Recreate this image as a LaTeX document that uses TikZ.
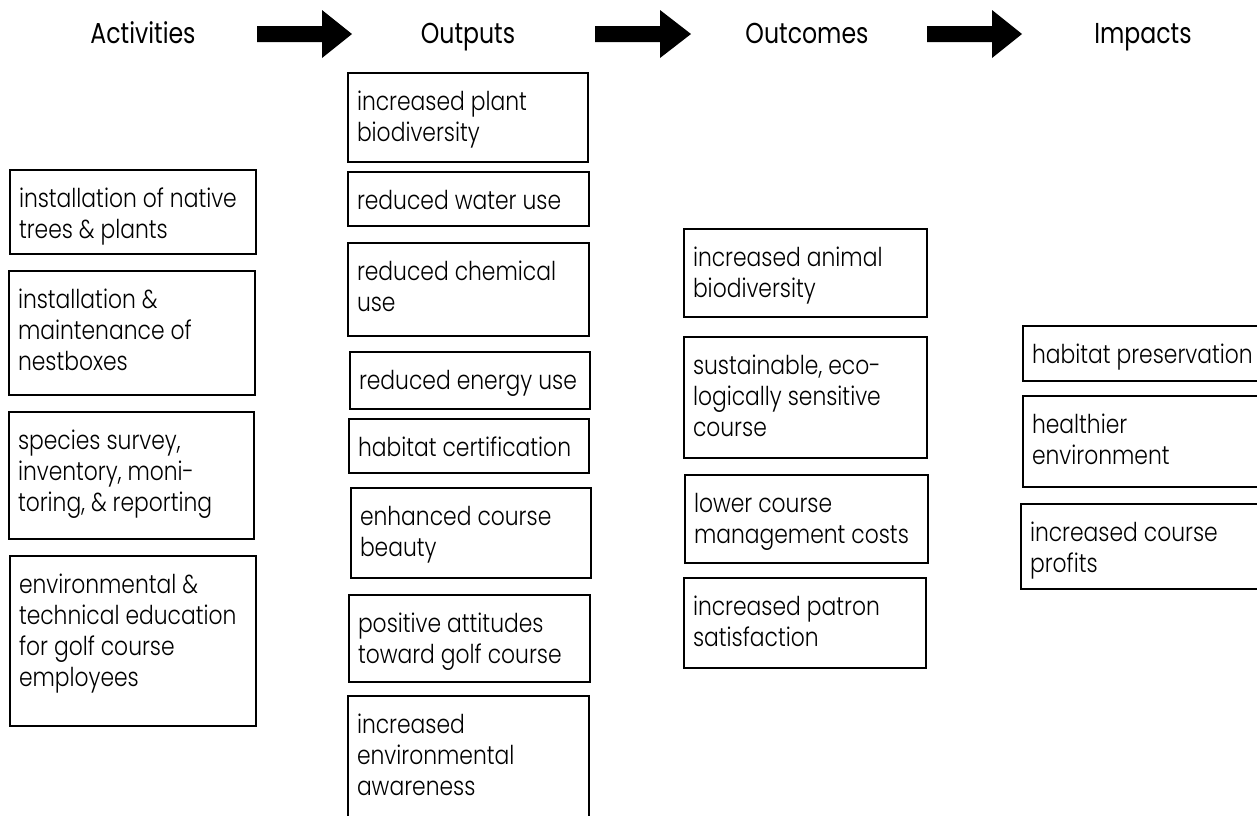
\documentclass[tikz,border=0pt]{standalone}
\usepackage{fontspec}
\setmainfont{Poppins Light}[FakeStretch=0.84]
\newfontfamily\ttlfont{Poppins}[FakeStretch=0.82]
\tikzset{
  boxst/.style={draw=black, line width=1.1pt, rectangle, inner sep=0pt, outer sep=0pt, anchor=north west},
  txt/.style={inner sep=0pt, outer sep=0pt, align=left, anchor=north west,
    font=\fontsize{19.5pt}{23.25pt}\selectfont},
  ttl/.style={inner sep=0pt, anchor=base, font=\ttlfont\fontsize{21.6pt}{25pt}\selectfont},
  blockarrow/.style={fill=black}
}
% name, left, top, right, bottom, text
\newcommand{\mkbox}[6]{%
  \node[boxst, minimum width={(#4-#2)*0.75pt}, minimum height={(#5-#3)*0.75pt}] (#1) at (#2,#3) {};
  \node[txt] (#1-t) at ([shift={(9,15)}]#1.north west) {\rule{0pt}{16.5pt}#6};
}
\begin{document}
\begin{tikzpicture}[x=0.75pt,y=-0.75pt]
\useasboundingbox (0,0) rectangle (1257,815);
\clip (0,0) rectangle (1257,815);

% titles
\node[ttl] (tact) at (143,43) {Activities};
\node[ttl] (tout) at (468,43) {Outputs};
\node[ttl] (tcome) at (807,43) {Outcomes};
\node[ttl] (timp) at (1143,43) {Impacts};

% block arrows
\fill[blockarrow] (257,26) -- (322,26) -- (322,10) -- (352,34) -- (322,58) -- (322,42) -- (257,42) -- cycle;
\fill[blockarrow] (595,26) -- (660,26) -- (660,10) -- (691,34) -- (660,58) -- (660,42) -- (595,42) -- cycle;
\fill[blockarrow] (927,26) -- (992,26) -- (992,10) -- (1022,34) -- (992,58) -- (992,42) -- (927,42) -- cycle;

% Activities
\mkbox{a1}{10}{170}{256}{254}{installation of native\\trees \& plants}
\mkbox{a2}{9}{271}{255}{395}{installation \&\\maintenance of\\nestboxes}
\mkbox{a3}{9}{412}{254}{539}{species survey,\\inventory, moni-\\toring, \& reporting}
\mkbox{a4}{10}{556}{256}{726}{environmental \&\\technical education\\for golf course\\employees}

% Outputs
\mkbox{o1}{348}{73}{588}{162}{increased plant\\biodiversity}
\mkbox{o2}{348}{172}{589}{226}{reduced water use}
\mkbox{o3}{348}{243}{589}{336}{reduced chemical\\use}
\mkbox{o4}{350}{352}{590}{409}{reduced energy use}
\mkbox{o5}{349}{419}{589}{473}{habitat certification}
\mkbox{o6}{351}{488}{591}{578}{enhanced course\\beauty}
\mkbox{o7}{349}{595}{590}{682}{positive attitudes\\toward golf course}
\mkbox{o8}{348}{696}{589}{830}{increased\\environmental\\awareness}

% Outcomes
\mkbox{c1}{684}{229}{927}{317}{increased animal\\biodiversity}
\mkbox{c2}{684}{337}{927}{458}{sustainable, eco-\\logically sensitive\\course}
\mkbox{c3}{685}{475}{928}{563}{lower course\\management costs}
\mkbox{c4}{684}{578}{926}{668}{increased patron\\satisfaction}

% Impacts
\mkbox{i1}{1023}{326}{1270}{381}{habitat preservation}
\mkbox{i2}{1023}{396}{1270}{487}{healthier\\environment}
\mkbox{i3}{1021}{504}{1270}{589}{increased course\\profits}
\end{tikzpicture}
\end{document}
